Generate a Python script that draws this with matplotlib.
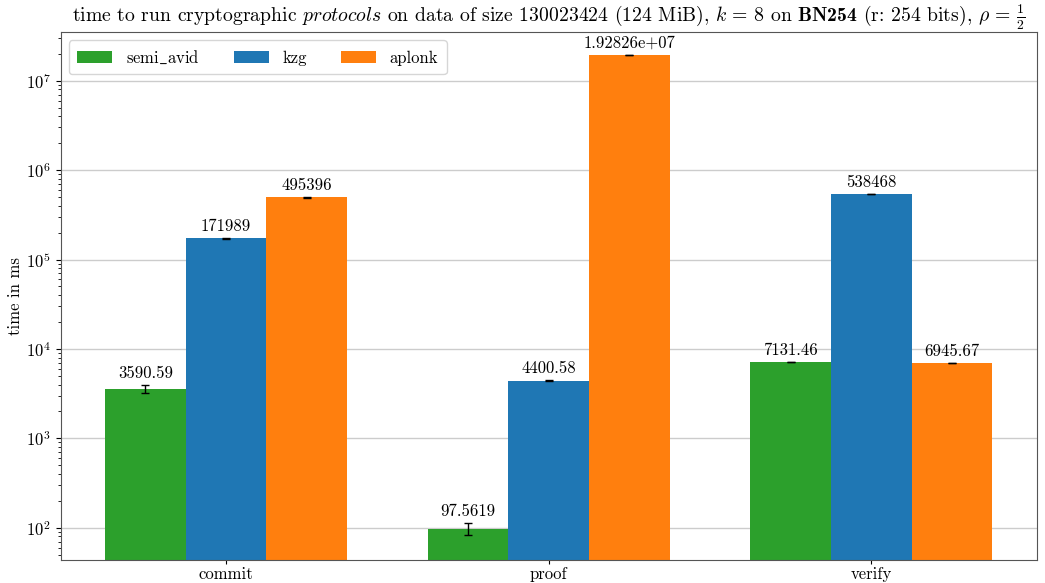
import matplotlib
matplotlib.use("Agg")
import matplotlib.pyplot as plt
import numpy as np

plt.rcParams['font.family'] = 'serif'
plt.rcParams['font.serif'] = ['cmr10', 'DejaVu Serif']
plt.rcParams['mathtext.fontset'] = 'custom'
plt.rcParams['mathtext.rm'] = 'cmr10'
plt.rcParams['mathtext.it'] = 'cmmi10'
plt.rcParams['mathtext.bf'] = 'cmb10'
plt.rcParams['mathtext.fallback'] = 'cm'
plt.rcParams['axes.formatter.use_mathtext'] = True
plt.rcParams['axes.unicode_minus'] = False

categories = ["commit", "proof", "verify"]
series_names = ["semi$\\_$avid", "kzg", "aplonk"]
semi_avid = [3590.59, 97.5619, 7131.46]
semi_avid_err = [383, 15, 40]
kzg = [171989, 4400.58, 538468]
kzg_err = [1500, 40, 3000]
aplonk = [495396, 1.92826e7, 6945.67]
aplonk_err = [3000, 100000, 30]
y_major_ticks = [1e2, 1e3, 1e4, 1e5, 1e6, 1e7]
colors = ["#2ca02c", "#1f77b4", "#ff7f0e"]

fig, ax = plt.subplots(figsize=(10.45, 5.83), dpi=100)
x = np.arange(len(categories))
width = 0.25
for i, (vals, errs) in enumerate([(semi_avid, semi_avid_err), (kzg, kzg_err), (aplonk, aplonk_err)]):
    bars = ax.bar(x + (i - 1) * width, vals, width, yerr=errs, capsize=3,
                  color=colors[i], label=series_names[i], zorder=2,
                  error_kw=dict(ecolor='black', elinewidth=1.0, capthick=1.0))
    ax.bar_label(bars, fmt='%g', padding=3, fontsize=12)

ax.set_yscale('log')
ax.set_yticks(y_major_ticks)
ax.set_ylim(44, 3.5e7)
ax.set_xticks(x)
ax.set_xticklabels(categories, fontsize=12)
ax.tick_params(axis='x', length=3, pad=2)
ax.tick_params(axis='y', labelsize=12)
ax.set_ylabel("time in ms", fontsize=12, labelpad=2)
ax.yaxis.grid(True, which='major', color='#cccccc', linewidth=1, zorder=0)
ax.set_axisbelow(True)
for s in ax.spines.values():
    s.set_color('#555555')
ax.set_title("time to run cryptographic $\\mathit{protocols}$ on data of size 130023424 (124 MiB), "
             "$k$ = 8 on $\\mathbf{BN254}$ (r: 254 bits), $\\rho$ = $\\frac{1}{2}$", fontsize=14.2, pad=5)
leg = ax.legend(loc='upper left', ncol=3, fontsize=12, handlelength=2.1, columnspacing=2.0,
                handletextpad=0.85, borderpad=0.5)
for t in leg.get_texts():
    t.set_math_fontfamily('cm')
fig.subplots_adjust(left=0.058, right=0.992, top=0.945, bottom=0.04)
fig.savefig("out.png", dpi=100)
